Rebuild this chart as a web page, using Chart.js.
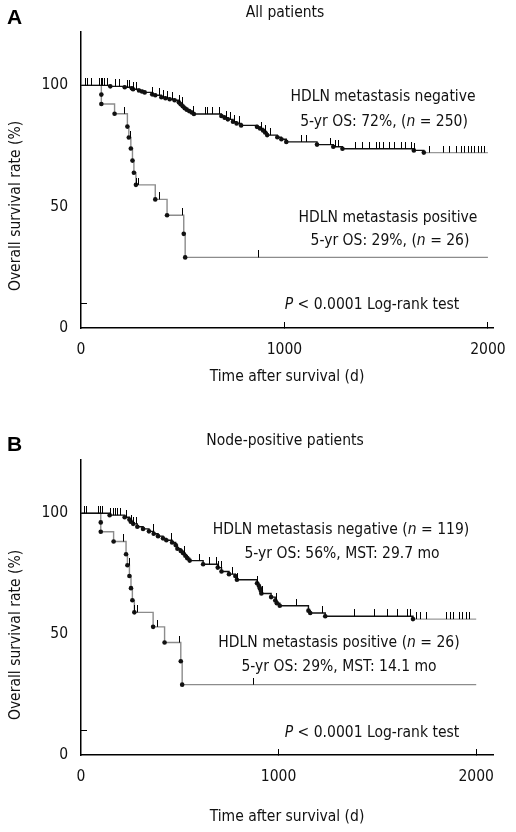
<!DOCTYPE html>
<html>
<head>
<meta charset="utf-8">
<script src="https://cdn.jsdelivr.net/npm/chart.js@4.4.1/dist/chart.umd.min.js"></script>
<style>
  html, body { margin: 0; padding: 0; background: #fff; }
  #wrap { position: relative; width: 516px; height: 832px; }
  canvas { position: absolute; left: 0; }
</style>
</head>
<body>
<div id="wrap">
  <canvas id="chartA" width="516" height="400" style="top:0"></canvas>
  <canvas id="chartB" width="516" height="432" style="top:400px"></canvas>
</div>
<script>
// axis ticks
const dayTicks = [0, 1000, 2000];
const survTicks = [0, 50, 100];
const survMinorTicks = [10];
const followUpEnd = 2000;

// HDLN metastasis positive (n = 26), same patients in both panels
const posDays = [100, 100, 165, 228, 235, 245, 253, 260, 270, 365, 423, 505, 512];
const posSurv = [96.2, 92.3, 88.3, 83.0, 78.5, 74.0, 69.0, 64.0, 59.0, 53.0, 46.5, 38.8, 29.1];
const posCensor = [215, 243, 272, 285, 388, 498, 871];

// A: HDLN metastasis negative, all patients (n = 250)
const negADays = [144, 215, 250, 256, 285, 300, 313, 350, 365, 395, 415, 436, 460, 481, 490, 500, 510, 520, 532, 545,
    555, 690, 706, 722, 747, 765, 787, 865, 880, 895, 905, 915, 965, 985, 1009, 1160, 1240, 1285, 1636, 1685];
const negASurv = [99.6, 99.2, 98.8, 98.4, 97.9, 97.5, 97.1, 96.3, 95.9, 95.1, 94.7, 94.3, 93.9, 93.0, 92.2, 91.4, 90.6, 90.0, 89.4, 88.8,
    88.2, 87.4, 86.7, 86.0, 85.0, 84.3, 83.5, 82.9, 82.2, 81.4, 80.6, 79.5, 78.6, 77.8, 76.7, 75.6, 74.7, 73.9, 73.2, 72.3];
const negACensor = [21, 34, 51, 92, 100, 108, 116, 129, 169, 190, 228, 236, 260, 275, 352, 384, 404, 425, 449, 482, 498, 551,
    613, 624, 645, 681, 714, 736, 755, 779, 888, 907, 932, 1084, 1106, 1228, 1252, 1268, 1351, 1384, 1417, 1450, 1466, 1485,
    1518, 1543, 1576, 1597, 1625, 1641, 1715, 1780, 1813, 1846, 1871, 1887, 1903, 1920, 1936, 1952, 1969, 1985];

// B: HDLN metastasis negative, node-positive patients (n = 119)
const negBDays = [145, 221, 245, 252, 264, 285, 314, 344, 368, 390, 415, 432, 461, 479, 488, 505, 516, 528, 538, 550,
    618, 692, 711, 749, 781, 789, 891, 900, 905, 910, 913, 962, 983, 991, 1006, 1151, 1160, 1236, 1680];
const negBSurv = [99.2, 98.3, 97.4, 96.5, 95.6, 94.4, 93.5, 92.5, 91.5, 90.5, 89.6, 88.8, 87.9, 86.8, 85.3, 84.4, 83.5, 82.4, 81.4, 80.4,
    78.9, 77.5, 75.9, 74.8, 74.0, 72.5, 71.0, 70.0, 69.0, 67.9, 66.8, 65.3, 63.9, 62.8, 61.7, 59.7, 58.7, 57.4, 56.2];
const negBCensor = [19, 27, 90, 100, 108, 148, 162, 174, 187, 199, 230, 255, 268, 280, 365, 457, 525, 601, 651, 685, 697, 710,
    769, 791, 895, 918, 990, 1092, 1224, 1382, 1484, 1551, 1601, 1652, 1666, 1696, 1716, 1750, 1852, 1868, 1885, 1916, 1933, 1949, 1966];

const FONT = "'DejaVu Sans Condensed', 'DejaVu Sans', sans-serif";
const TEXT = '#111';
const FS = 15.5;

// KM step curve: start at 100%, one point per event, flat to end of follow-up
function kmPoints(days, surv) {
    const pts = [{x: 0, y: 100}];
    days.forEach((d, i) => pts.push({x: d, y: surv[i]}));
    pts.push({x: followUpEnd, y: surv[surv.length - 1]});
    return pts;
}
function survAt(days, surv, t) {
    let v = 100;
    days.forEach((d, i) => { if (d <= t) v = surv[i]; });
    return v;
}
function censorPoints(censor, days, surv) {
    return censor.map(t => ({x: t, y: survAt(days, surv, t)}));
}

// censor mark: short vertical stroke rising from the curve
const tickMark = document.createElement('canvas');
tickMark.width = 1;
tickMark.height = 14;
(function () {
    const c = tickMark.getContext('2d');
    c.fillStyle = '#000';
    c.fillRect(0, 0, 1, 7);
})();

function curveSet(pts, color, lastColor) {
    const n = pts.length;
    return {
        type: 'line',
        data: pts,
        stepped: true,
        borderColor: color,
        borderWidth: 1.4,
        fill: false,
        pointRadius: ctx => (ctx.dataIndex === 0 || ctx.dataIndex === n - 1) ? 0 : 2.3,
        pointBackgroundColor: '#111',
        pointBorderWidth: 0,
        segment: {
            borderColor: ctx => (lastColor && ctx.p1DataIndex === n - 1) ? lastColor : color
        },
        order: 2
    };
}
function censorSet(pts) {
    return {
        type: 'scatter',
        data: pts,
        pointStyle: tickMark,
        showLine: false,
        order: 1
    };
}

function drawRuns(ctx, runs, cx, cy, size) {
    const fonts = runs.map(r => (r[1] ? 'italic ' : '') + size + 'px ' + FONT);
    const widths = runs.map((r, i) => { ctx.font = fonts[i]; return ctx.measureText(r[0]).width; });
    let x = cx - widths.reduce((a, b) => a + b, 0) / 2;
    ctx.textAlign = 'left';
    ctx.textBaseline = 'middle';
    ctx.fillStyle = TEXT;
    runs.forEach((r, i) => {
        ctx.font = fonts[i];
        ctx.fillText(r[0], x, cy);
        x += widths[i];
    });
}

function notesPlugin(letter, letterY, notes, yTitleY, xTitleY) {
    return {
        id: 'notes',
        afterDraw(chart) {
            const ctx = chart.ctx;
            ctx.save();
            ctx.font = "bold 21px 'Liberation Sans', Arial, sans-serif";
            ctx.fillStyle = '#000';
            ctx.textAlign = 'left';
            ctx.textBaseline = 'middle';
            ctx.fillText(letter, 7, letterY);
            notes.forEach(n => drawRuns(ctx, n.runs, n.x, n.y, FS));
            drawRuns(ctx, [['Time after survival (d)', false]], 287, xTitleY, FS);
            ctx.translate(16, yTitleY);
            ctx.rotate(-Math.PI / 2);
            drawRuns(ctx, [['Overall survival rate (%)', false]], 0, 0, FS);
            ctx.restore();
        }
    };
}

function noScalePadding(s) {
    s.paddingLeft = 0;
    s.paddingRight = 0;
    s.paddingTop = 0;
    s.paddingBottom = 0;
}

function makeChart(id, cfg) {
    new Chart(document.getElementById(id), {
        data: {datasets: cfg.datasets},
        options: {
            responsive: false,
            animation: false,
            events: [],
            devicePixelRatio: 1,
            layout: {padding: {top: cfg.top, right: 23, left: 0, bottom: 0}},
            plugins: {legend: {display: false}, tooltip: {enabled: false}},
            scales: {
                x: {
                    type: 'linear',
                    min: 0,
                    max: cfg.xMax,
                    afterBuildTicks: s => { s.ticks = dayTicks.map(v => ({value: v})); },
                    afterFit: s => { s.height = cfg.xAxisH; noScalePadding(s); },
                    ticks: {
                        font: {family: FONT, size: FS},
                        color: TEXT,
                        padding: 19,
                        maxRotation: 0,
                        autoSkip: false,
                        callback: v => String(v)
                    },
                    grid: {
                        drawOnChartArea: false,
                        drawTicks: true,
                        tickLength: -6,
                        tickWidth: 1,
                        tickColor: ctx => (ctx.tick && ctx.tick.value > 0) ? '#000' : 'rgba(0,0,0,0)'
                    },
                    border: {color: '#000', width: 1.5}
                },
                y: {
                    type: 'linear',
                    min: 0,
                    max: 122,
                    afterBuildTicks: s => {
                        s.ticks = survTicks.concat(survMinorTicks).sort((a, b) => a - b).map(v => ({value: v}));
                    },
                    afterFit: s => { s.width = 81; noScalePadding(s); },
                    ticks: {
                        font: {family: FONT, size: FS},
                        color: TEXT,
                        padding: 19,
                        callback: v => survTicks.includes(v) ? String(v) : ''
                    },
                    grid: {
                        drawOnChartArea: false,
                        drawTicks: true,
                        tickLength: -6,
                        tickWidth: 1,
                        tickColor: ctx => (ctx.tick && survMinorTicks.includes(ctx.tick.value)) ? '#000' : 'rgba(0,0,0,0)'
                    },
                    border: {color: '#000', width: 1.5}
                }
            }
        },
        plugins: [cfg.notes]
    });
}

makeChart('chartA', {
    top: 32,
    xAxisH: 72,
    xMax: 2025,
    datasets: [
        curveSet(kmPoints(negADays, negASurv), '#111', '#999'),
        curveSet(kmPoints(posDays, posSurv), '#8c8c8c'),
        censorSet(censorPoints(negACensor, negADays, negASurv)),
        censorSet(censorPoints(posCensor, posDays, posSurv))
    ],
    notes: notesPlugin('A', 18, [
        {runs: [['All patients', false]], x: 285, y: 13},
        {runs: [['HDLN metastasis negative', false]], x: 383, y: 97},
        {runs: [['5-yr OS: 72%, (', false], ['n', true], [' = 250)', false]], x: 384, y: 122},
        {runs: [['HDLN metastasis positive', false]], x: 388, y: 218},
        {runs: [['5-yr OS: 29%, (', false], ['n', true], [' = 26)', false]], x: 390, y: 241},
        {runs: [['P', true], [' < 0.0001 Log-rank test', false]], x: 372, y: 305}
    ], 206, 377)
});

makeChart('chartB', {
    top: 60,
    xAxisH: 77,
    xMax: 2085,
    datasets: [
        curveSet(kmPoints(negBDays, negBSurv), '#111', '#999'),
        curveSet(kmPoints(posDays, posSurv), '#8c8c8c'),
        censorSet(censorPoints(negBCensor, negBDays, negBSurv)),
        censorSet(censorPoints(posCensor, posDays, posSurv))
    ],
    notes: notesPlugin('B', 45, [
        {runs: [['Node-positive patients', false]], x: 285, y: 41},
        {runs: [['HDLN metastasis negative (', false], ['n', true], [' = 119)', false]], x: 341, y: 130},
        {runs: [['5-yr OS: 56%, MST: 29.7 mo', false]], x: 342, y: 154},
        {runs: [['HDLN metastasis positive (', false], ['n', true], [' = 26)', false]], x: 339, y: 243},
        {runs: [['5-yr OS: 29%, MST: 14.1 mo', false]], x: 339, y: 267},
        {runs: [['P', true], [' < 0.0001 Log-rank test', false]], x: 372, y: 333}
    ], 235, 417)
});
</script>
</body>
</html>
